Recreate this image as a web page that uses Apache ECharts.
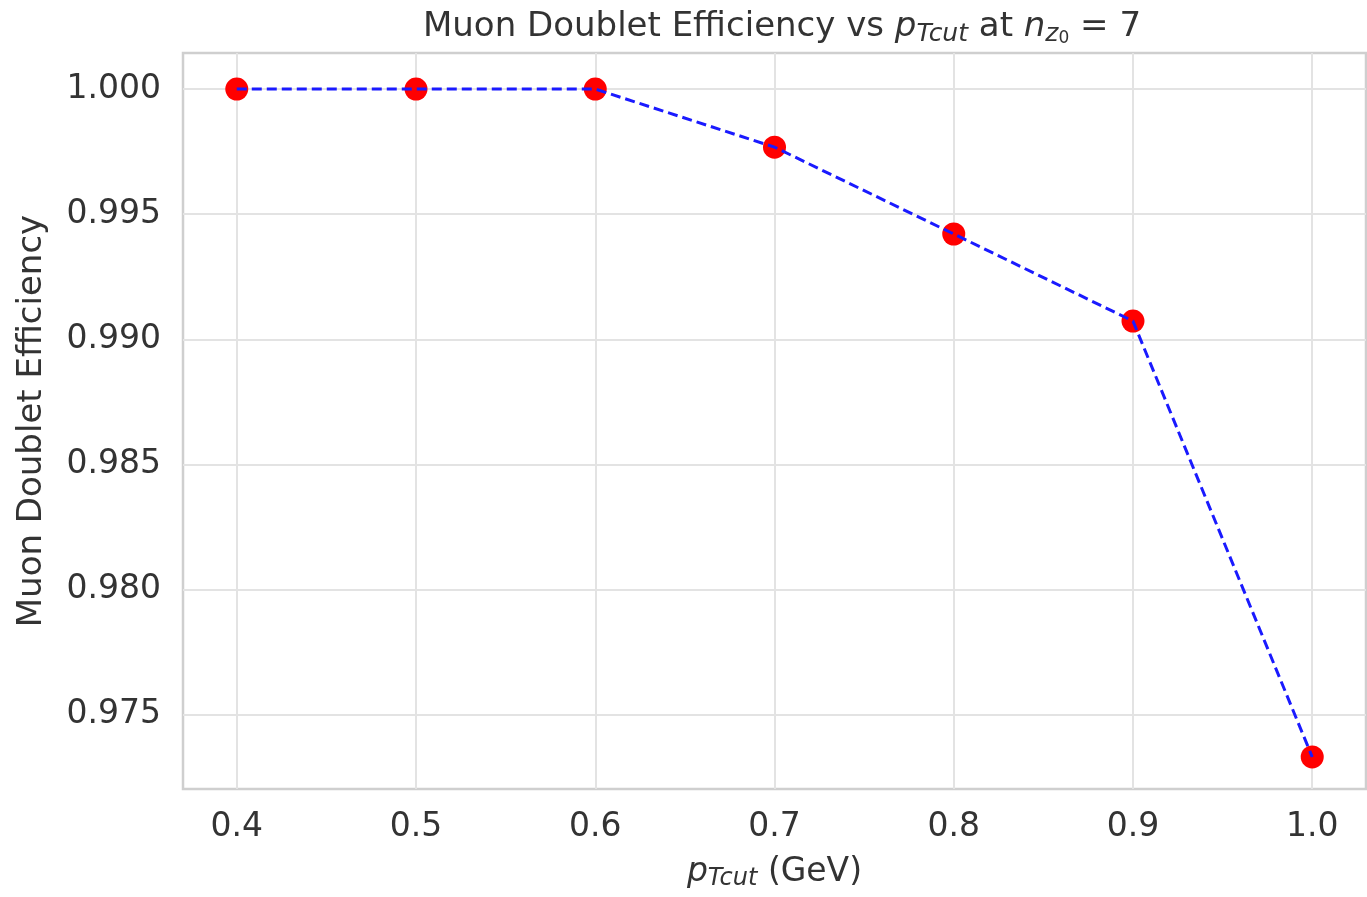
<!DOCTYPE html>
<html>
<head>
<meta charset="utf-8">
<script src="https://cdn.jsdelivr.net/npm/echarts@6/dist/echarts.min.js"></script>
<style>
html,body{margin:0;padding:0;background:#fff;}
#chart{width:1367px;height:897px;}
</style>
</head>
<body>
<div id="chart"></div>
<script>
const ptCut = [0.4, 0.5, 0.6, 0.7, 0.8, 0.9, 1.0];
const efficiency = [1.0, 1.0, 1.0, 0.99768, 0.99421, 0.99073, 0.97332];
const xTicks = [0.4, 0.5, 0.6, 0.7, 0.8, 0.9, 1.0];
const yTicks = [0.975, 0.980, 0.985, 0.990, 0.995, 1.000];

const FONT = 'DejaVu Sans';
const TXT = '#333333';
const points = ptCut.map((x, i) => [x, efficiency[i]]);

const chart = echarts.init(document.getElementById('chart'));
chart.setOption({
  animation: false,
  backgroundColor: '#ffffff',
  title: {
    text: 'Muon Doublet Efficiency vs {i|p}{sub|Tcut} at {i|n}{sub|z}{subsub|0} = 7',
    left: 777,
    top: 3,
    textAlign: 'center',
    textStyle: {
      fontFamily: FONT, fontSize: 34, fontWeight: 'normal', color: TXT, lineHeight: 39,
      rich: {
        i: {fontFamily: FONT, fontSize: 34, fontStyle: 'italic', color: TXT, lineHeight: 39},
        sub: {fontFamily: FONT, fontSize: 25, fontStyle: 'italic', color: TXT, lineHeight: 27, verticalAlign: 'bottom'},
        subsub: {fontFamily: FONT, fontSize: 17, color: TXT, lineHeight: 12, verticalAlign: 'bottom'}
      }
    }
  },
  grid: {
    left: 183, right: 1, top: 53, bottom: 108,
    show: true, borderColor: '#cfcfcf', borderWidth: 2.5,
    containLabel: false, outerBoundsMode: 'none'
  },
  xAxis: {
    type: 'value',
    min: 0.37, max: 1.03,
    name: '{i|p}{sub|Tcut} (GeV)',
    nameLocation: 'middle',
    nameGap: 64,
    nameTextStyle: {
      fontFamily: FONT, fontSize: 33, color: TXT, lineHeight: 38,
      rich: {
        i: {fontFamily: FONT, fontSize: 33, fontStyle: 'italic', color: TXT, lineHeight: 38},
        sub: {fontFamily: FONT, fontSize: 24, fontStyle: 'italic', color: TXT, lineHeight: 26, verticalAlign: 'bottom'}
      }
    },
    axisLine: {show: false},
    axisTick: {show: false, customValues: xTicks},
    axisLabel: {
      customValues: xTicks,
      formatter: v => v.toFixed(1),
      fontFamily: FONT, fontSize: 33, color: TXT, margin: 22
    },
    splitLine: {show: true, lineStyle: {color: '#e3e3e3', width: 2}}
  },
  yAxis: {
    type: 'value',
    min: 0.97204, max: 1.00144,
    name: 'Muon Doublet Efficiency',
    nameLocation: 'middle',
    nameGap: 134,
    nameTextStyle: {fontFamily: FONT, fontSize: 34, color: TXT},
    axisLine: {show: false},
    axisTick: {show: false, customValues: yTicks},
    axisLabel: {
      customValues: yTicks,
      formatter: v => v.toFixed(3),
      fontFamily: FONT, fontSize: 33, color: TXT, margin: 22
    },
    splitLine: {show: true, lineStyle: {color: '#e3e3e3', width: 2}}
  },
  series: [
    {
      type: 'scatter',
      data: points,
      symbol: 'circle',
      symbolSize: 23,
      itemStyle: {color: '#ff0000', opacity: 1},
      z: 2
    },
    {
      type: 'line',
      data: points,
      showSymbol: false,
      symbol: 'none',
      lineStyle: {color: '#1a1aff', width: 3, type: [10, 5]},
      z: 3
    }
  ]
});
</script>
</body>
</html>
